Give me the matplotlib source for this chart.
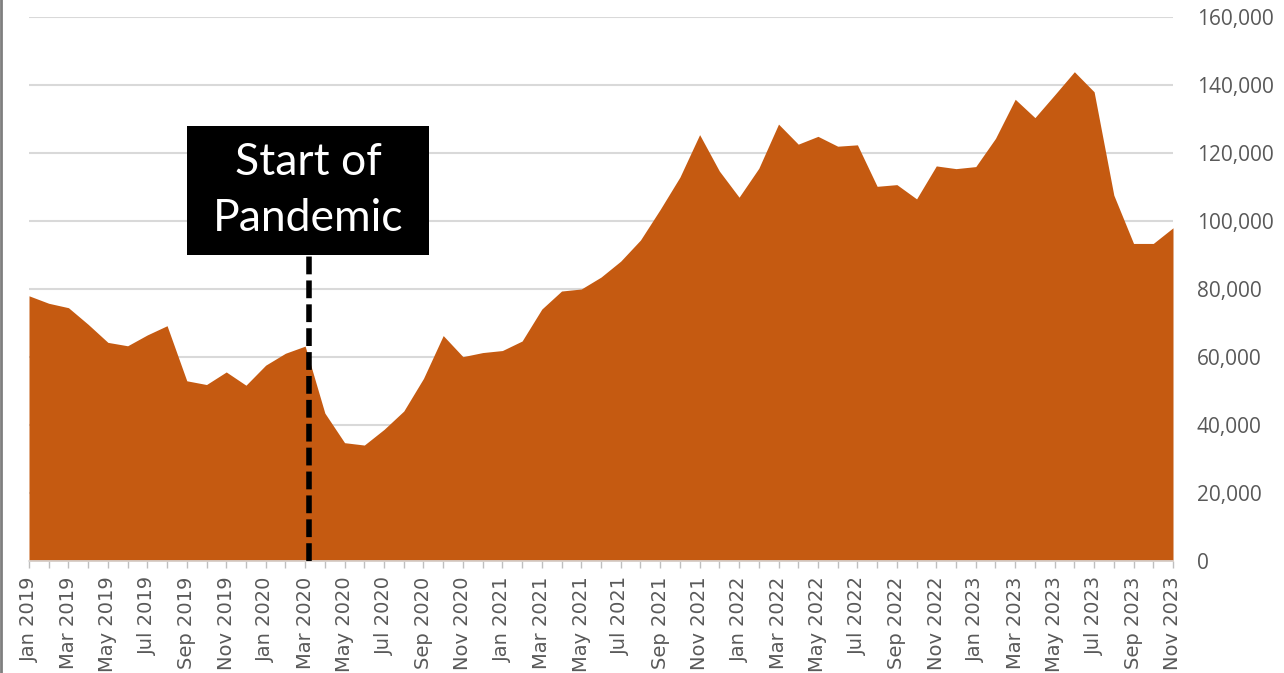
import matplotlib.pyplot as plt
import matplotlib.lines as mlines
from matplotlib.patches import Rectangle
import numpy as np
from matplotlib.ticker import FuncFormatter, MultipleLocator

# Monthly counts, Jan 2019 .. Nov 2023
month_names = ['Jan', 'Feb', 'Mar', 'Apr', 'May', 'Jun',
               'Jul', 'Aug', 'Sep', 'Oct', 'Nov', 'Dec']
years = [2019, 2020, 2021, 2022, 2023]
months = [f'{m} {y}' for y in years for m in month_names][:59]

counts = [
    78000, 75800, 74500, 69600, 64300, 63300, 66500, 69200, 53000, 51900, 55600, 51700,   # 2019
    57600, 61100, 63200, 43500, 34800, 34100, 38700, 44100, 53700, 66300, 60100, 61300,   # 2020
    61900, 64700, 74100, 79400, 80000, 83500, 88200, 94400, 103400, 112900, 125400, 114700,  # 2021
    107000, 115500, 128500, 122600, 124900, 122000, 122400, 110200, 110700, 106500, 116200, 115400,  # 2022
    116000, 124300, 135800, 130400, 137100, 143900, 138000, 107600, 93400, 93400, 98000,  # 2023
]

pandemic_start = 14.2          # mid-March 2020, in month index units
pandemic_label = 'Start of\nPandemic'

fill_color = '#C55A11'
text_gray = '#595959'
grid_gray = '#d9d9d9'

fig = plt.figure(figsize=(12.84, 6.73), dpi=100)
ax = fig.add_axes([29 / 1284, 1 - 561 / 673, (1173 - 29) / 1284, (561 - 17) / 673])

x = np.arange(len(counts))
ax.fill_between(x, counts, 0, color=fill_color, linewidth=0, zorder=2)

ax.set_xlim(0, len(counts) - 1)
ax.set_ylim(0, 160000)

# y axis on the right, no tick marks
ax.yaxis.tick_right()
ax.yaxis.set_major_locator(MultipleLocator(20000))
ax.yaxis.set_major_formatter(FuncFormatter(lambda v, p: f'{int(v):,}'))
ax.tick_params(axis='y', length=0, pad=17, labelsize=15, labelcolor=text_gray)
ax.grid(axis='y', color=grid_gray, linewidth=1.5, zorder=0)

# x axis: tick every month, label every other month
ax.set_xticks(x[::2])
ax.set_xticklabels(months[::2], rotation=90)
ax.set_xticks(x, minor=True)
ax.tick_params(axis='x', which='both', length=5, color='#bfbfbf', width=1)
ax.tick_params(axis='x', which='major', labelsize=14, labelcolor=text_gray, pad=6)

for side in ['top', 'left', 'right']:
    ax.spines[side].set_visible(False)
ax.spines['bottom'].set_color(grid_gray)
ax.spines['bottom'].set_linewidth(1.2)

for lbl in ax.get_yticklabels():
    lbl.set_fontfamily('Open Sans')

# pandemic marker: callout box with a dashed drop line
box_bottom, box_top = 90000, 128000
box_half_width = 6.14
ax.add_patch(Rectangle((pandemic_start - box_half_width - 0.05, box_bottom),
                       2 * box_half_width, box_top - box_bottom,
                       facecolor='black', edgecolor='none', zorder=5))
ax.text(pandemic_start - 0.05, (box_bottom + box_top) / 2, pandemic_label,
        color='white', fontsize=32, family='Lato', ha='center', va='center',
        linespacing=1.45, zorder=6)
ax.plot([pandemic_start, pandemic_start], [0, box_bottom], color='black',
        linewidth=4, linestyle=(0, (3.2, 1.1)), zorder=4)

# thin frame line on the left edge
fig.add_artist(mlines.Line2D([0.001, 0.001], [0, 1], color='#7f7f7f', linewidth=2,
                             transform=fig.transFigure))

fig.savefig('out.png', dpi=100)
